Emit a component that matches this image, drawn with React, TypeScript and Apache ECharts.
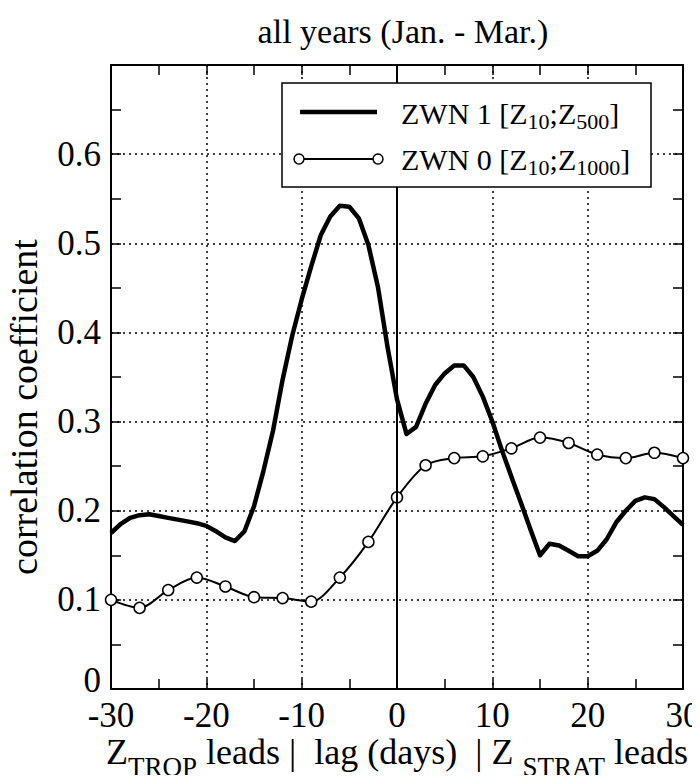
import React, { useEffect, useRef } from "react";
import * as echarts from "echarts";

const TITLE = "all years (Jan. - Mar.)";
const Y_NAME = "correlation coefficient";

// lag in days (ZWN 1, daily)
const lagsDaily = [
  -30, -29, -28, -27, -26, -25, -24, -23, -22, -21, -20, -19, -18, -17, -16, -15,
  -14, -13, -12, -11, -10, -9, -8, -7, -6, -5, -4, -3, -2, -1, 0, 1, 2, 3, 4, 5, 6,
  7, 8, 9, 10, 11, 12, 13, 14, 15, 16, 17, 18, 19, 20, 21, 22, 23, 24, 25, 26, 27,
  28, 29, 30,
];
// ZWN 1 [Z10;Z500]
const zwn1 = [
  0.175, 0.185, 0.192, 0.195, 0.196, 0.194, 0.192, 0.19, 0.188, 0.186, 0.183, 0.177,
  0.17, 0.166, 0.177, 0.205, 0.245, 0.29, 0.347, 0.396, 0.437, 0.474, 0.509, 0.53,
  0.542, 0.541, 0.528, 0.498, 0.451, 0.384, 0.325, 0.286, 0.294, 0.32, 0.341, 0.354,
  0.363, 0.363, 0.35, 0.328, 0.3, 0.268, 0.238, 0.209, 0.179, 0.15, 0.163, 0.161,
  0.155, 0.149, 0.149, 0.155, 0.168, 0.187, 0.2, 0.211, 0.215, 0.213, 0.204, 0.194,
  0.184,
];
// lag in days (ZWN 0, every 3 days)
const lags3 = [-30, -27, -24, -21, -18, -15, -12, -9, -6, -3, 0, 3, 6, 9, 12, 15, 18, 21, 24, 27, 30];
// ZWN 0 [Z10;Z1000]
const zwn0 = [
  0.1, 0.091, 0.111, 0.125, 0.115, 0.103, 0.102, 0.098, 0.125, 0.165, 0.215, 0.251,
  0.259, 0.261, 0.27, 0.282, 0.276, 0.263, 0.259, 0.265, 0.259,
];

const FONT = "Liberation Serif";

export default function App() {
  const ref = useRef<HTMLDivElement>(null);

  useEffect(() => {
    if (!ref.current) return;
    const chart = echarts.init(ref.current, null, { renderer: "svg" });

    const tickCommon = {
      axisLine: { show: true, onZero: false, lineStyle: { color: "#000", width: 2 } },
      axisTick: { show: true, inside: true, length: 10, lineStyle: { color: "#000", width: 1.5 } },
      minorTick: { show: true, splitNumber: 2, length: 10, lineStyle: { color: "#000", width: 1.5 } },
    };
    const dotted = { type: [2, 4], color: "#000", width: 1.5 };

    const legendRich = {
      m: { fontFamily: FONT, fontSize: 30, lineHeight: 30, color: "#000", fill: "#000" },
      s: { fontFamily: FONT, fontSize: 22, lineHeight: 22, padding: [16, 0, 0, 0], color: "#000", fill: "#000" },
    };

    const option: any = {
      animation: false,
      backgroundColor: "#fff",
      title: {
        text: TITLE,
        left: 398,
        top: 9,
        textAlign: "center",
        textStyle: { fontFamily: FONT, fontSize: 34, fontWeight: "normal", color: "#000" },
      },
      grid: {
        left: 111,
        right: 17,
        top: 65,
        bottom: 94,
        containLabel: false,
        outerBoundsMode: "none",
      },
      xAxis: [
        {
          type: "value",
          position: "bottom",
          min: -30,
          max: 30,
          interval: 10,
          ...tickCommon,
          axisLabel: { fontFamily: FONT, fontSize: 35, lineHeight: 24, color: "#000", margin: 14 },
          splitLine: { show: true, lineStyle: dotted },
          name: "Z{sub|TROP}{m| leads |  lag (days)  | Z }{sub|STRAT}{m| leads}",
          nameLocation: "middle",
          nameGap: 45,
          nameMoveOverlap: false,
          nameTextStyle: {
            fontFamily: FONT,
            fontSize: 36,
            color: "#000",
            lineHeight: 36,
            rich: {
              m: { fontFamily: FONT, fontSize: 36, lineHeight: 36, color: "#000" },
              sub: {
                fontFamily: FONT,
                fontSize: 27,
                lineHeight: 26,
                padding: [30, 0, 0, 0],
                color: "#000",
              },
            },
          },
        },
        {
          type: "value",
          position: "top",
          min: -30,
          max: 30,
          interval: 10,
          ...tickCommon,
          axisLabel: { show: false },
          splitLine: { show: false },
        },
      ],
      yAxis: [
        {
          type: "value",
          position: "left",
          min: 0,
          max: 0.7,
          interval: 0.1,
          ...tickCommon,
          axisLabel: {
            fontFamily: FONT,
            fontSize: 35,
            lineHeight: 22,
            color: "#000",
            margin: 10,
            formatter: (v: number) =>
              v > 0.65 ? "" : v === 0 ? "{z|0}" : v.toFixed(1),
            rich: {
              z: { fontFamily: FONT, fontSize: 35, lineHeight: 22, padding: [0, 0, 18, 0], color: "#000" },
            },
          },
          splitLine: { show: true, lineStyle: dotted },
          name: Y_NAME,
          nameLocation: "middle",
          nameGap: 68,
          nameMoveOverlap: false,
          nameTextStyle: {
            fontFamily: FONT,
            fontSize: 38,
            color: "#000",
            padding: [0, 60, 0, 0],
          },
        },
        {
          type: "value",
          position: "right",
          min: 0,
          max: 0.7,
          interval: 0.1,
          ...tickCommon,
          axisLabel: { show: false },
          splitLine: { show: false },
        },
      ],
      series: [
        {
          name: "ZWN 1 [Z10;Z500]",
          type: "line",
          xAxisIndex: 0,
          yAxisIndex: 0,
          data: lagsDaily.map((x, i) => [x, zwn1[i]]),
          showSymbol: false,
          symbol: "none",
          lineStyle: { color: "#000", width: 4.5, join: "round" },
          z: 3,
          markLine: {
            silent: true,
            symbol: ["none", "none"],
            label: { show: false },
            lineStyle: { type: "solid", color: "#000", width: 2 },
            data: [{ xAxis: 0 }],
          },
        },
        {
          name: "ZWN 0 [Z10;Z1000]",
          type: "line",
          xAxisIndex: 0,
          yAxisIndex: 0,
          data: lags3.map((x, i) => [x, zwn0[i]]),
          smooth: 0.3,
          symbol: "circle",
          symbolSize: 11,
          clip: false,
          lineStyle: { color: "#000", width: 2 },
          itemStyle: { color: "#fff", borderColor: "#000", borderWidth: 1.5 },
          z: 4,
        },
      ],
      graphic: [
        {
          type: "group",
          z: 100,
          children: [
            {
              type: "rect",
              z: 100,
              shape: { x: 282, y: 83, width: 369, height: 104 },
              style: { fill: "#fff", stroke: "#000", lineWidth: 1.5 },
            },
            {
              type: "line",
              z: 101,
              shape: { x1: 300, y1: 112, x2: 377, y2: 112 },
              style: { stroke: "#000", lineWidth: 4.5 },
            },
            {
              type: "line",
              z: 101,
              shape: { x1: 299, y1: 159, x2: 378, y2: 159 },
              style: { stroke: "#000", lineWidth: 2 },
            },
            {
              type: "circle",
              z: 102,
              shape: { cx: 299, cy: 159, r: 5 },
              style: { fill: "#fff", stroke: "#000", lineWidth: 1.5 },
            },
            {
              type: "circle",
              z: 102,
              shape: { cx: 378, cy: 159, r: 5 },
              style: { fill: "#fff", stroke: "#000", lineWidth: 1.5 },
            },
            {
              type: "text",
              z: 102,
              x: 401,
              y: 113,
              style: {
                text: "{m|ZWN 1 [Z}{s|10}{m|;Z}{s|500}{m|]}",
                textAlign: "left",
                textVerticalAlign: "middle",
                align: "left",
                verticalAlign: "middle",
                fill: "#000",
                rich: legendRich,
              },
            },
            {
              type: "text",
              z: 102,
              x: 401,
              y: 159,
              style: {
                text: "{m|ZWN 0 [Z}{s|10}{m|;Z}{s|1000}{m|]}",
                textAlign: "left",
                textVerticalAlign: "middle",
                align: "left",
                verticalAlign: "middle",
                fill: "#000",
                rich: legendRich,
              },
            },
          ],
        },
      ],
    };

    chart.setOption(option);
    return () => chart.dispose();
  }, []);

  return <div ref={ref} style={{ width: 700, height: 783, margin: -8 }} />;
}
